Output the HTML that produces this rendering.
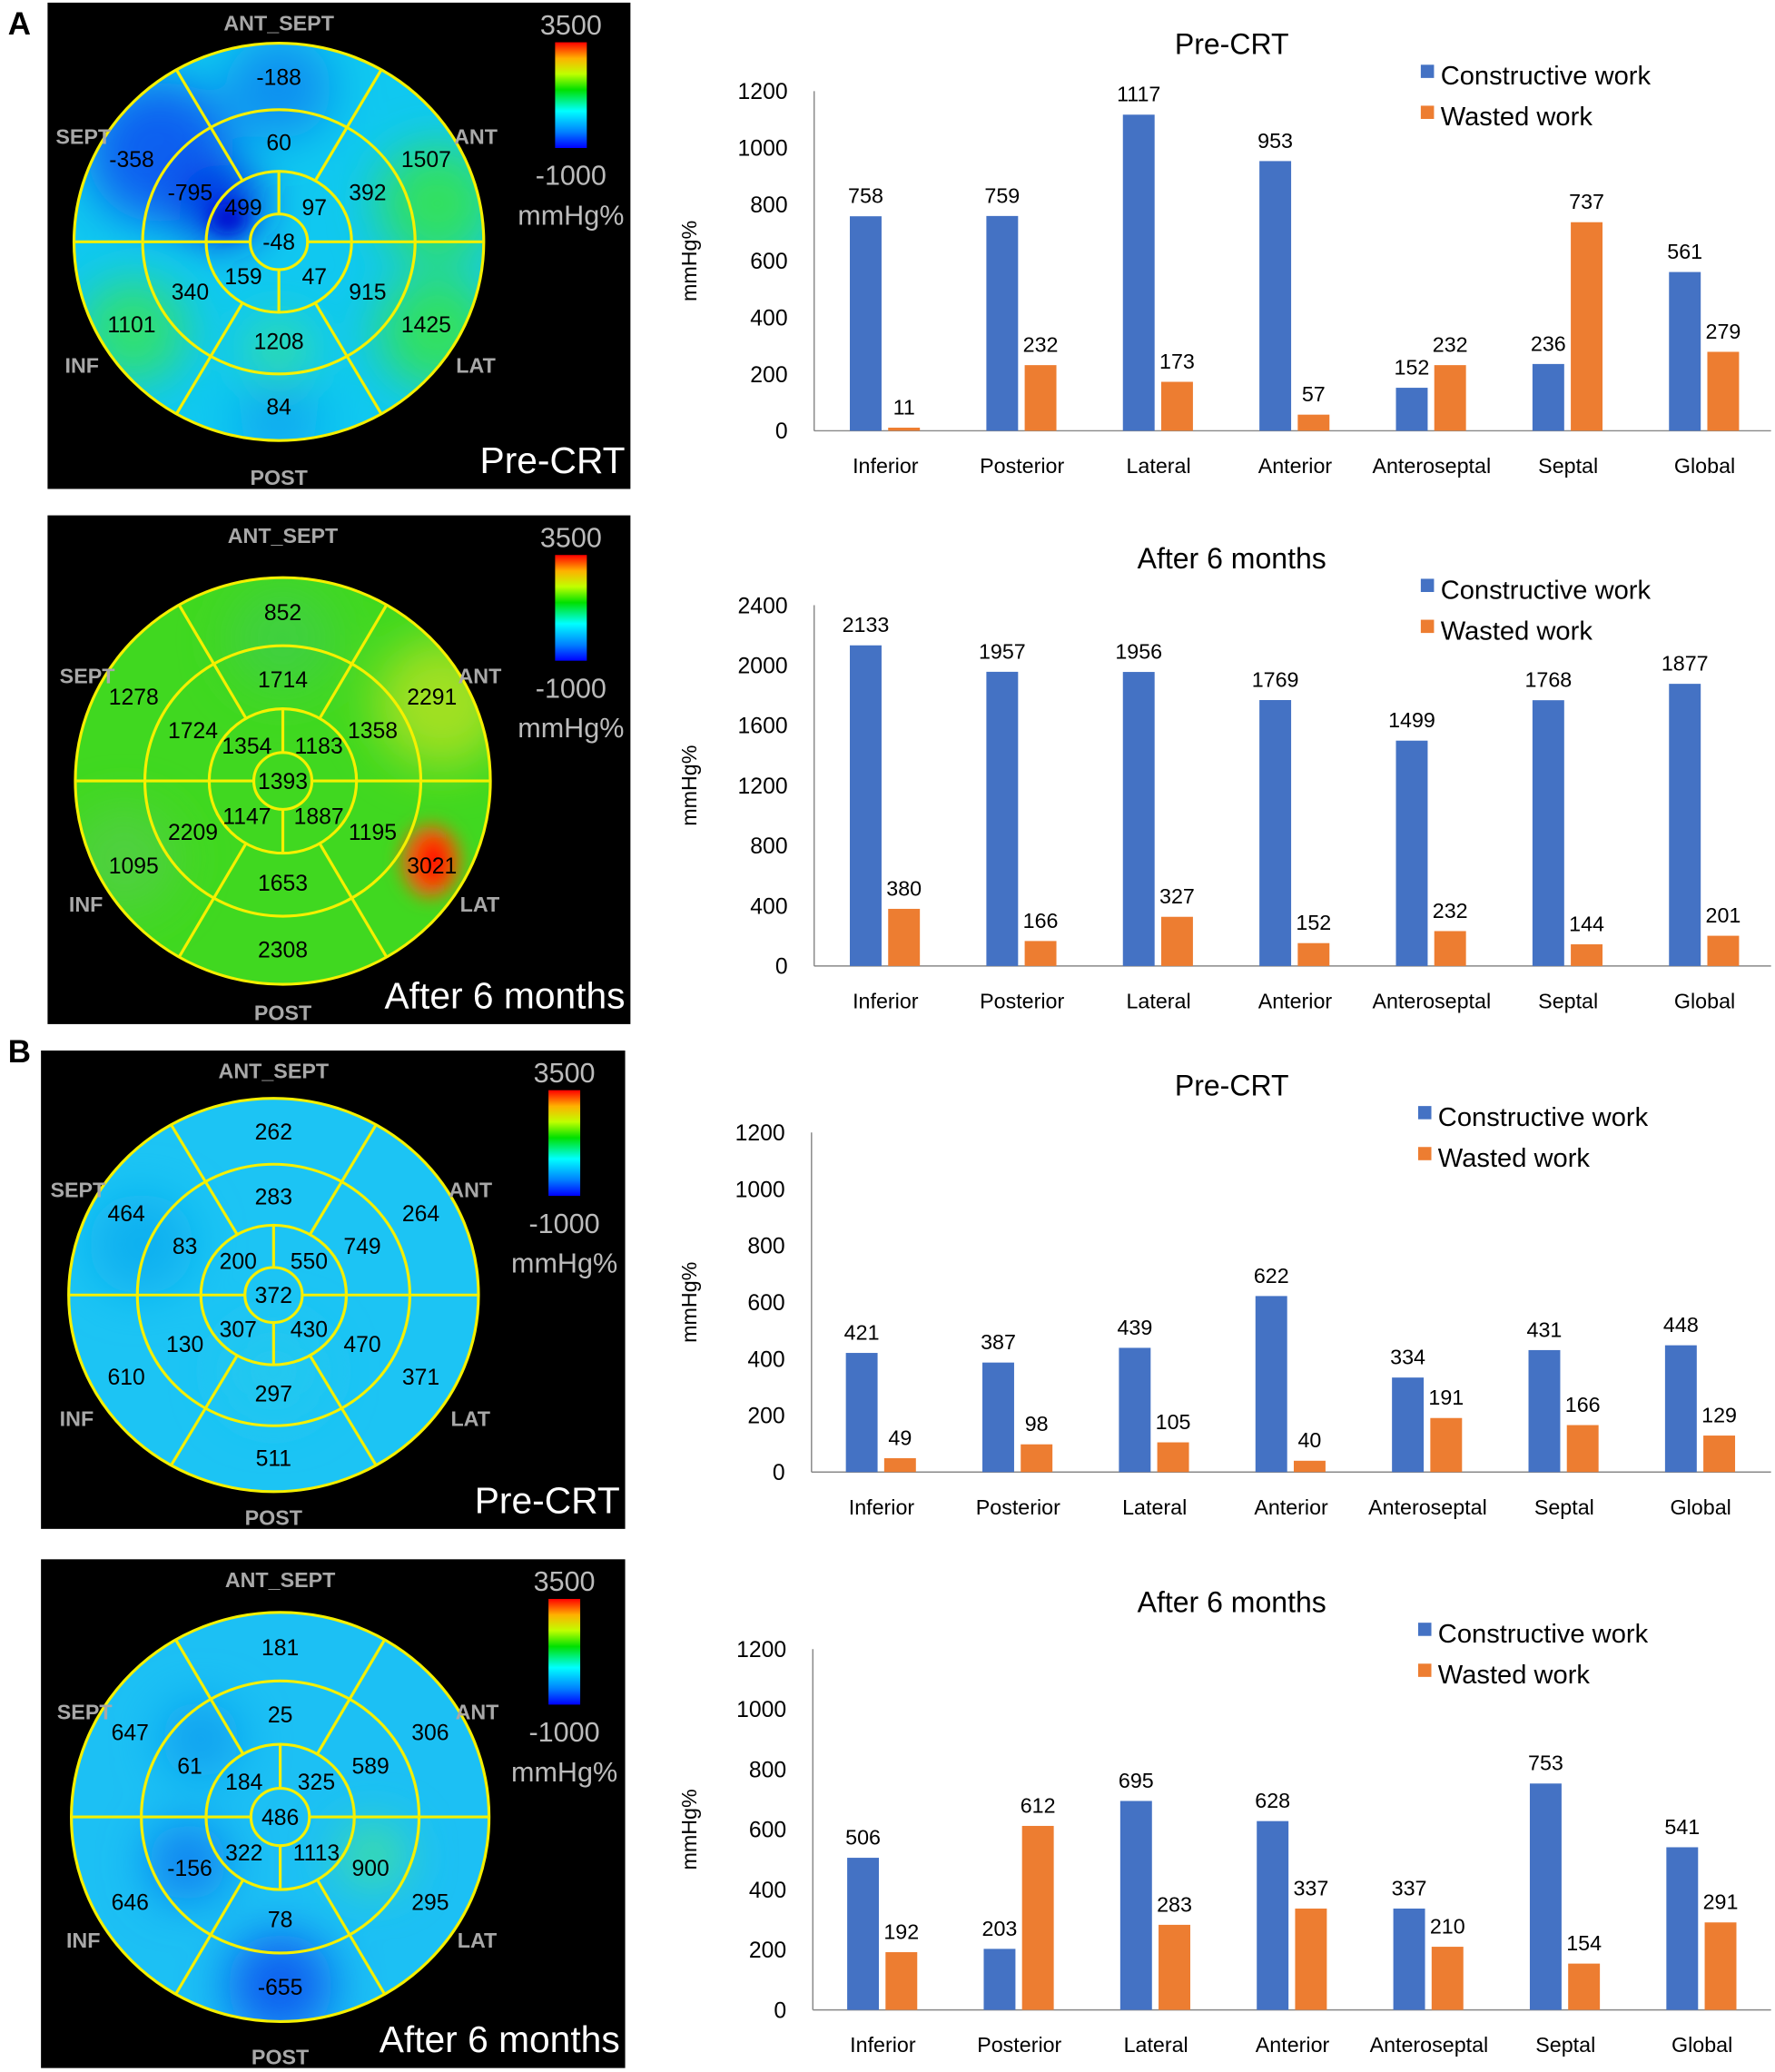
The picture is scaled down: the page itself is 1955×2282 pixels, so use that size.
<!DOCTYPE html>
<html><head><meta charset="utf-8"><style>
html,body{margin:0;padding:0;background:#fff;}
svg{display:block;font-family:"Liberation Sans",Arial,sans-serif;}
</style></head><body>
<svg id="root" width="1955" height="2282" viewBox="0 0 1343 1568" preserveAspectRatio="none" xmlns="http://www.w3.org/2000/svg">
<defs>
<linearGradient id="cbar" x1="0" y1="0" x2="0" y2="1">
<stop offset="0" stop-color="#ff0000"/><stop offset="0.15" stop-color="#ffb000"/><stop offset="0.3" stop-color="#c0ff00"/><stop offset="0.45" stop-color="#00e000"/><stop offset="0.65" stop-color="#00ffff"/><stop offset="0.85" stop-color="#0080ff"/><stop offset="1" stop-color="#0000ff"/>
</linearGradient>
<filter id="blur" x="-50%" y="-50%" width="200%" height="200%"><feGaussianBlur stdDeviation="18"/></filter>
<filter id="blur2" x="-50%" y="-50%" width="200%" height="200%"><feGaussianBlur stdDeviation="7"/></filter>
</defs>
<text x="6" y="26" font-size="24" font-weight="bold">A</text>
<text x="6" y="804" font-size="24" font-weight="bold">B</text>
</svg>
<script>
const NS='http://www.w3.org/2000/svg';
const root=document.getElementById('root');
function mk(tag,attrs,parent){const e=document.createElementNS(NS,tag);for(const k in attrs)e.setAttribute(k,attrs[k]);(parent||root).appendChild(e);return e;}

// ---- chart data ----
const categories=['Inferior','Posterior','Lateral','Anterior','Anteroseptal','Septal','Global'];
const a1Constructive=[758,759,1117,953,152,236,561];
const a1Wasted=[11,232,173,57,232,737,279];
const a2Constructive=[2133,1957,1956,1769,1499,1768,1877];
const a2Wasted=[380,166,327,152,232,144,201];
const b1Constructive=[421,387,439,622,334,431,448];
const b1Wasted=[49,98,105,40,191,166,129];
const b2Constructive=[506,203,695,628,337,753,541];
const b2Wasted=[192,612,283,337,210,154,291];
const ticks1200=[0,200,400,600,800,1000,1200];
const ticks2400=[0,400,800,1200,1600,2000,2400];

// ---- bullseye data (basal 6, mid 6, apical 4, apex) ----
const a1Basal=[-188,1507,1425,84,1101,-358], a1Mid=[60,392,915,1208,340,-795], a1Apical=[97,47,159,499], a1Apex=-48;
const a2Basal=[852,2291,3021,2308,1095,1278], a2Mid=[1714,1358,1195,1653,2209,1724], a2Apical=[1183,1887,1147,1354], a2Apex=1393;
const b1Basal=[262,264,371,511,610,464], b1Mid=[283,749,470,297,130,83], b1Apical=[550,430,307,200], b1Apex=372;
const b2Basal=[181,306,295,-655,646,647], b2Mid=[25,589,900,78,-156,61], b2Apical=[325,1113,322,184], b2Apex=486;

function bullseye(o){
  const g=mk('g',{});
  
  
  mk('rect',{x:o.x,y:o.y,width:o.w,height:o.h,fill:'#000'},g);
  const cx=o.cx,cy=o.cy,R=o.r;
  const inner=mk('g',{transform:`translate(${cx},${cy}) scale(1,${o.sy}) translate(${-cx},${-cy})`},g);
  const clipId='clip'+o.name;
  const cp=mk('clipPath',{id:clipId},inner);mk('circle',{cx,cy,r:R},cp);
  const fillG=mk('g',{'clip-path':`url(#${clipId})`},inner);
  mk('circle',{cx,cy,r:R,fill:o.base},fillG);
  const bl=mk('g',{filter:'url(#blur)'},fillG);
  o.blobs.forEach(b=>mk('circle',{cx:cx+b[0],cy:cy+b[1],r:b[2],fill:b[3]},bl));
  if(o.spots){const bl2=mk('g',{filter:'url(#blur2)'},fillG);
    o.spots.forEach(b=>mk('ellipse',{cx:cx+b[0],cy:cy+b[1],rx:b[2],ry:b[3],fill:b[4]},bl2));}
  const ls={stroke:'#f5f000','stroke-width':2.2,fill:'none'};
  [R,R*0.665,R*0.355,R*0.14].forEach(r=>mk('circle',Object.assign({cx,cy,r},ls),inner));
  [0,60,120,180,240,300].forEach(a=>{const t=a*Math.PI/180;
    mk('line',Object.assign({x1:cx+R*0.665*Math.cos(t),y1:cy+R*0.665*Math.sin(t),x2:cx+R*Math.cos(t),y2:cy+R*Math.sin(t)},ls),inner);
    mk('line',Object.assign({x1:cx+R*0.355*Math.cos(t),y1:cy+R*0.355*Math.sin(t),x2:cx+R*0.665*Math.cos(t),y2:cy+R*0.665*Math.sin(t)},ls),inner);});
  [0,90,180,270].forEach(a=>{const t=a*Math.PI/180;
    mk('line',Object.assign({x1:cx+R*0.14*Math.cos(t),y1:cy+R*0.14*Math.sin(t),x2:cx+R*0.355*Math.cos(t),y2:cy+R*0.355*Math.sin(t)},ls),inner);});
  const ang6=[-90,-30,30,90,150,210], ang4=[-45,45,135,225];
  function val(v,r,a){const t=a*Math.PI/180;const e=mk('text',{x:cx+r*Math.cos(t),y:cy+r*Math.sin(t)*o.sy+6,'text-anchor':'middle','font-size':17,fill:'#000',transform:''},g);e.textContent=v;
    
    }
  o.basal.forEach((v,i)=>val(v,R*0.83,ang6[i]));
  o.mid.forEach((v,i)=>val(v,R*0.5,ang6[i]));
  o.apical.forEach((v,i)=>val(v,R*0.245,ang4[i]));
  val(o.apex,0,0);
  const lab=[['ANT_SEPT',cx,o.y+21],['SEPT',cx-148,cy-74],['ANT',cx+149,cy-74],['INF',cx-149,cy+99],['LAT',cx+149,cy+99],['POST',cx,o.y+o.h-3]];
  lab.forEach(l=>{const e=mk('text',{x:l[1],y:l[2],'text-anchor':'middle','font-size':16,'font-weight':'bold',fill:'#a8a8a8'},g);e.textContent=l[0];
    
    });
  const bx=o.x+384,by=o.y+30;
  mk('rect',{x:bx,y:by,width:24,height:80,fill:'url(#cbar)'},g);
  const t1=mk('text',{x:bx+12,y:by-6,'text-anchor':'middle','font-size':21,fill:'#bbb'},g);t1.textContent='3500';
  const t2=mk('text',{x:bx+12,y:by+108,'text-anchor':'middle','font-size':21,fill:'#bbb'},g);t2.textContent='-1000';
  const t3=mk('text',{x:bx+12,y:by+138,'text-anchor':'middle','font-size':21,fill:'#bbb'},g);t3.textContent='mmHg%';
  const t4=mk('text',{x:o.x+o.w-4,y:o.y+o.h-12,'text-anchor':'end','font-size':28,fill:'#fff'},g);t4.textContent=o.caption;
}

bullseye({name:'bullseye-a-pre-crt',x:36,y:2,w:441,h:368,cx:211,cy:183,r:155,sy:0.97,caption:'Pre-CRT',
  base:'#10c8f0',basal:a1Basal,mid:a1Mid,apical:a1Apical,apex:a1Apex,
  blobs:[[-90,-70,55,'#1060f0'],[0,-120,40,'#1090f0'],[-45,-30,30,'#0020e0'],[120,-30,45,'#30e060'],[120,70,45,'#30e060'],[-110,70,40,'#30e070'],[0,85,25,'#30e0a0'],[0,140,30,'#10a8f0']],
  spots:[[-38,-18,14,12,'#0010d0']]});
bullseye({name:'bullseye-a-after-6-months',x:36,y:390,w:441,h:385,cx:214,cy:591,r:157,sy:0.98,caption:'After 6 months',
  base:'#40d820',basal:a2Basal,mid:a2Mid,apical:a2Apical,apex:a2Apex,
  blobs:[[120,-60,50,'#a0e020'],[0,-110,40,'#40d040'],[-120,60,40,'#50d040']],
  spots:[[112,62,22,28,'#f06010'],[114,62,12,18,'#ff0000']]});
bullseye({name:'bullseye-b-pre-crt',x:31,y:795,w:442,h:362,cx:207,cy:980,r:155,sy:0.96,caption:'Pre-CRT',
  base:'#1cc4f4',basal:b1Basal,mid:b1Mid,apical:b1Apical,apex:b1Apex,
  blobs:[[-100,-40,40,'#10b0f0'],[0,60,40,'#20c8f0']]});
bullseye({name:'bullseye-b-after-6-months',x:31,y:1180,w:442,h:385,cx:212,cy:1375,r:158,sy:0.98,caption:'After 6 months',
  base:'#1cc0f4',basal:b2Basal,mid:b2Mid,apical:b2Apical,apex:b2Apex,
  blobs:[[0,130,40,'#1060f0'],[-70,35,30,'#1080f0'],[70,30,25,'#40e0a0'],[-60,-60,30,'#10a0f0']]});

function barChart(o){
  const g=mk('g',{});
  
  
  const y=v=>o.y0-(v/o.max)*(o.y0-o.yTop);
  const xc=i=>o.x0+53+i*103.3;
  mk('line',{x1:o.ax,y1:o.yTop,x2:o.ax,y2:o.y0,stroke:'#888','stroke-width':1},g);
  mk('line',{x1:o.ax,y1:o.y0,x2:1340,y2:o.y0,stroke:'#888','stroke-width':1},g);
  o.ticks.forEach(t=>{const e=mk('text',{x:o.ax-20,y:y(t)+6,'text-anchor':'end','font-size':17,fill:'#000'},g);e.textContent=t;
    
    });
  const yl=mk('text',{x:0,y:0,transform:`translate(527,${(o.y0+o.yTop)/2}) rotate(-90)`,'text-anchor':'middle','font-size':16},g);yl.textContent='mmHg%';
  
  
  const tt=mk('text',{x:932,y:o.yTop-28,'text-anchor':'middle','font-size':22},g);tt.textContent=o.title;
  
  
  categories.forEach((c,i)=>{
    const cx=xc(i);
    const vb=o.c[i],vw=o.w[i];
    const b=mk('rect',{x:cx-27,y:y(vb),width:24,height:o.y0-y(vb),fill:'#4472C4'},g);
    
    
    const w=mk('rect',{x:cx+2,y:y(vw),width:24,height:o.y0-y(vw),fill:'#ED7D31'},g);
    
    
    const l1=mk('text',{x:cx-15,y:y(vb)-10,'text-anchor':'middle','font-size':16},g);l1.textContent=vb;
    
    
    const l2=mk('text',{x:cx+14,y:y(vw)-10,'text-anchor':'middle','font-size':16},g);l2.textContent=vw;
    
    
    const cl=mk('text',{x:cx,y:o.y0+32,'text-anchor':'middle','font-size':16},g);cl.textContent=c;
    
    
  });
  [['Constructive work','#4472C4',o.ly],['Wasted work','#ED7D31',o.ly+31]].forEach(L=>{
    mk('rect',{x:o.lx,y:L[2]-8,width:10,height:10,fill:L[1]},g);
    const e=mk('text',{x:o.lx+15,y:L[2]+7,'font-size':20},g);e.textContent=L[0];
    
    
  });
}
barChart({name:'chart-a-pre-crt',title:'Pre-CRT',ax:616,x0:617,y0:326,yTop:69,max:1200,ticks:ticks1200,c:a1Constructive,w:a1Wasted,lx:1075,ly:57});
barChart({name:'chart-a-after-6-months',title:'After 6 months',ax:616,x0:617,y0:731,yTop:458,max:2400,ticks:ticks2400,c:a2Constructive,w:a2Wasted,lx:1075,ly:446});
barChart({name:'chart-b-pre-crt',title:'Pre-CRT',ax:614,x0:614,y0:1114,yTop:857,max:1200,ticks:ticks1200,c:b1Constructive,w:b1Wasted,lx:1073,ly:845});
barChart({name:'chart-b-after-6-months',title:'After 6 months',ax:615,x0:615,y0:1521,yTop:1248,max:1200,ticks:ticks1200,c:b2Constructive,w:b2Wasted,lx:1073,ly:1236});
</script>
</body></html>
